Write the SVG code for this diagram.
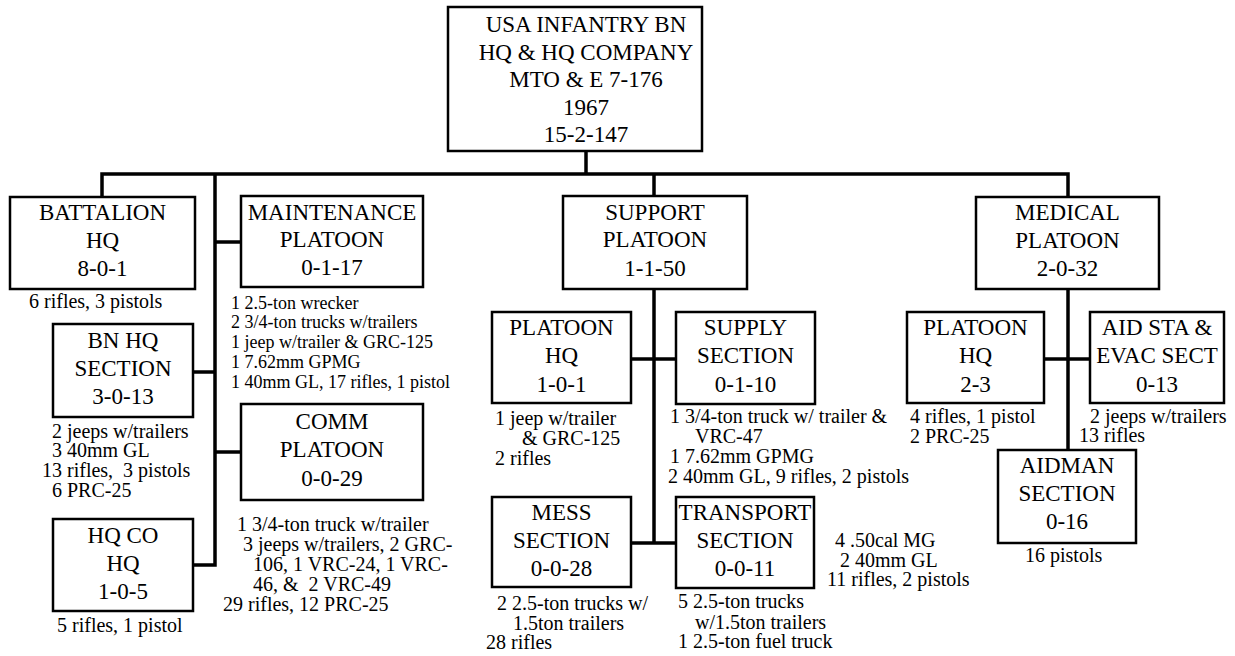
<svg xmlns="http://www.w3.org/2000/svg" width="1235" height="656" viewBox="0 0 1235 656" font-family="Liberation Serif, Tinos, Times New Roman, DejaVu Serif, serif">
<style>
text{font-family:'Liberation Serif','Tinos','Times New Roman','DejaVu Serif',serif;fill:#000}
.box{fill:#fff;stroke:#000;stroke-width:2.5}
.n{font-size:23px;text-anchor:middle}
.t{font-size:20px}
.s{font-size:18px}
.c{fill:none;stroke:#000;stroke-width:3.5}
</style>
<rect width="1235" height="656" fill="#fff"/>
<g id="connectors" class="c">
<path d="M586,151 V174"/>
<path d="M102,197 V174 H1068 V197"/>
<path d="M654,174 V196"/>
<path d="M215,174 V565 H193"/>
<path d="M193,372 H215"/>
<path d="M215,242 H241"/>
<path d="M215,452 H241"/>
<path d="M654,289 V543"/>
<path d="M631,359 H676"/>
<path d="M631,543 H676"/>
<path d="M1068,289 V450"/>
<path d="M1044,359 H1090"/>
</g>
<g id="top">
<rect class="box" x="448" y="7" width="254" height="144"/>
<text class="n" x="586" y="32">USA INFANTRY BN</text>
<text class="n" x="586" y="59.5">HQ &amp; HQ COMPANY</text>
<text class="n" x="586" y="87">MTO &amp; E 7-176</text>
<text class="n" x="586" y="114.5">1967</text>
<text class="n" x="586" y="142">15-2-147</text>
</g>
<g id="battalion-hq">
<rect class="box" x="10" y="197" width="185" height="92"/>
<text class="n" x="102.5" y="220">BATTALION</text>
<text class="n" x="102.5" y="248">HQ</text>
<text class="n" x="102.5" y="276">8-0-1</text>
<text class="t" x="29" y="308">6 rifles, 3 pistols</text>
</g>
<g id="bn-hq-section">
<rect class="box" x="53" y="324" width="140" height="93"/>
<text class="n" x="123" y="348">BN HQ</text>
<text class="n" x="123" y="376">SECTION</text>
<text class="n" x="123" y="404">3-0-13</text>
<text class="t" x="52" y="438">2 jeeps w/trailers</text>
<text class="t" x="52" y="457">3 40mm GL</text>
<text class="t" x="42" y="477" xml:space="preserve">13 rifles,  3 pistols</text>
<text class="t" x="52" y="497">6 PRC-25</text>
</g>
<g id="hq-co-hq">
<rect class="box" x="53" y="519" width="140" height="92"/>
<text class="n" x="123" y="543">HQ CO</text>
<text class="n" x="123" y="571">HQ</text>
<text class="n" x="123" y="599">1-0-5</text>
<text class="t" x="57" y="632">5 rifles, 1 pistol</text>
</g>
<g id="maintenance">
<rect class="box" x="241" y="196" width="182" height="91"/>
<text class="n" x="332" y="220">MAINTENANCE</text>
<text class="n" x="332" y="247">PLATOON</text>
<text class="n" x="332" y="275">0-1-17</text>
<text class="t s" x="231" y="309">1 2.5-ton wrecker</text>
<text class="t s" x="231" y="328">2 3/4-ton trucks w/trailers</text>
<text class="t s" x="231" y="348">1 jeep w/trailer &amp; GRC-125</text>
<text class="t s" x="231" y="368">1 7.62mm GPMG</text>
<text class="t s" x="231" y="388">1 40mm GL, 17 rifles, 1 pistol</text>
</g>
<g id="comm">
<rect class="box" x="241" y="404" width="182" height="96"/>
<text class="n" x="332" y="429">COMM</text>
<text class="n" x="332" y="457">PLATOON</text>
<text class="n" x="332" y="486">0-0-29</text>
<text class="t" x="237" y="531">1 3/4-ton truck w/trailer</text>
<text class="t" x="243" y="551">3 jeeps w/trailers, 2 GRC-</text>
<text class="t" x="253" y="571">106, 1 VRC-24, 1 VRC-</text>
<text class="t" x="253" y="591" xml:space="preserve">46, &amp;  2 VRC-49</text>
<text class="t" x="223" y="611">29 rifles, 12 PRC-25</text>
</g>
<g id="support">
<rect class="box" x="563" y="196" width="184" height="93"/>
<text class="n" x="655" y="220">SUPPORT</text>
<text class="n" x="655" y="247">PLATOON</text>
<text class="n" x="655" y="276">1-1-50</text>
</g>
<g id="support-platoon-hq">
<rect class="box" x="492" y="312" width="139" height="91"/>
<text class="n" x="561.5" y="335">PLATOON</text>
<text class="n" x="561.5" y="363">HQ</text>
<text class="n" x="561.5" y="392">1-0-1</text>
<text class="t" x="495" y="425">1 jeep w/trailer</text>
<text class="t" x="522" y="445">&amp; GRC-125</text>
<text class="t" x="495" y="465">2 rifles</text>
</g>
<g id="supply">
<rect class="box" x="676" y="312" width="139" height="92"/>
<text class="n" x="745.5" y="335">SUPPLY</text>
<text class="n" x="745.5" y="363">SECTION</text>
<text class="n" x="745.5" y="392">0-1-10</text>
<text class="t" x="670" y="423">1 3/4-ton truck w/ trailer &amp;</text>
<text class="t" x="695" y="443">VRC-47</text>
<text class="t" x="670" y="463">1 7.62mm GPMG</text>
<text class="t" x="668" y="483">2 40mm GL, 9 rifles, 2 pistols</text>
</g>
<g id="mess">
<rect class="box" x="492" y="497" width="139" height="90"/>
<text class="n" x="561.5" y="520">MESS</text>
<text class="n" x="561.5" y="548">SECTION</text>
<text class="n" x="561.5" y="576">0-0-28</text>
<text class="t" x="497" y="610">2 2.5-ton trucks w/</text>
<text class="t" x="513" y="630">1.5ton trailers</text>
<text class="t" x="486" y="649">28 rifles</text>
</g>
<g id="transport">
<rect class="box" x="676" y="497" width="138" height="91"/>
<text class="n" x="745" y="520">TRANSPORT</text>
<text class="n" x="745" y="548">SECTION</text>
<text class="n" x="745" y="576">0-0-11</text>
<text class="t" x="835" y="547">4 .50cal MG</text>
<text class="t" x="840" y="567">2 40mm GL</text>
<text class="t" x="827" y="586">11 rifles, 2 pistols</text>
<text class="t" x="678" y="608">5 2.5-ton trucks</text>
<text class="t" x="695" y="629">w/1.5ton trailers</text>
<text class="t" x="678" y="648">1 2.5-ton fuel truck</text>
</g>
<g id="medical">
<rect class="box" x="976" y="197" width="183" height="92"/>
<text class="n" x="1067.5" y="220">MEDICAL</text>
<text class="n" x="1067.5" y="248">PLATOON</text>
<text class="n" x="1067.5" y="276">2-0-32</text>
</g>
<g id="medical-platoon-hq">
<rect class="box" x="907" y="312" width="137" height="91"/>
<text class="n" x="975.5" y="335">PLATOON</text>
<text class="n" x="975.5" y="363">HQ</text>
<text class="n" x="975.5" y="392">2-3</text>
<text class="t" x="910" y="423">4 rifles, 1 pistol</text>
<text class="t" x="910" y="443">2 PRC-25</text>
</g>
<g id="aid-station">
<rect class="box" x="1090" y="312" width="134" height="91"/>
<text class="n" x="1157" y="335">AID STA &amp;</text>
<text class="n" x="1157" y="363">EVAC SECT</text>
<text class="n" x="1157" y="392">0-13</text>
<text class="t" x="1090" y="423">2 jeeps w/trailers</text>
<text class="t" x="1079" y="442">13 rifles</text>
</g>
<g id="aidman">
<rect class="box" x="998" y="450" width="138" height="93"/>
<text class="n" x="1067" y="473">AIDMAN</text>
<text class="n" x="1067" y="501">SECTION</text>
<text class="n" x="1067" y="529">0-16</text>
<text class="t" x="1025" y="562">16 pistols</text>
</g>
</svg>
